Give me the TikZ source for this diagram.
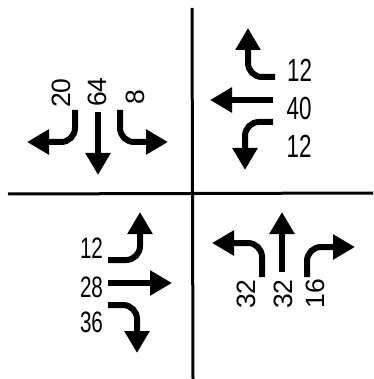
\documentclass[tikz,border=0pt]{standalone}
\usepackage{fontspec}
\setmainfont{Liberation Sans}
\usetikzlibrary{arrows.meta}

\begin{document}
\begin{tikzpicture}[
  x=1pt, y=-1pt,
  axis/.style={line width=3pt},
  move/.style={line width=6pt, rounded corners=14pt, -{Triangle[length=22pt, width=24pt]}},
  vcount/.style={inner sep=0pt, rotate=90, font=\fontsize{26.5}{26.5}\selectfont},
  hcount/.style={inner sep=0pt, xscale=0.7, font=\fontsize{32}{32}\selectfont}
]
\useasboundingbox (0,0) rectangle (373,379);

% crossing streets
\coordinate (vtop) at (192,8);
\coordinate (vbot) at (193,379);
\coordinate (hleft) at (8,194);
\coordinate (hright) at (373,193);
\draw[axis] (vtop) -- (vbot);
\draw[axis] (hleft) -- (hright);

% north approach
\node[vcount] (nleft) at (61.5,93) {20};
\node[vcount] (nthru) at (97.5,92) {64};
\node[vcount] (nright) at (135,97.5) {8};
\coordinate (nL0) at (75,110);  \coordinate (nL1) at (27,142);
\coordinate (nT0) at (98,112);  \coordinate (nT1) at (98,175);
\coordinate (nR0) at (120,110); \coordinate (nR1) at (168,142);
\draw[move] (nL0) |- (nL1);
\draw[move] (nT0) -- (nT1);
\draw[move] (nR0) |- (nR1);

% east approach
\node[hcount] (eleft) at (299.5,70) {12};
\node[hcount] (ethru) at (299,108.5) {40};
\node[hcount] (eright) at (299,146) {12};
\coordinate (eL0) at (275,77);  \coordinate (eL1) at (248,28);
\coordinate (eT0) at (273,100); \coordinate (eT1) at (210,100);
\coordinate (eR0) at (273,122); \coordinate (eR1) at (245,170);
\draw[move] (eL0) -| (eL1);
\draw[move] (eT0) -- (eT1);
\draw[move] (eR0) -| (eR1);

% west approach
\node[hcount, font=\fontsize{29.5}{29.5}\selectfont] (wleft) at (91.5,248) {12};
\node[hcount, font=\fontsize{29.5}{29.5}\selectfont] (wthru) at (91.5,287.5) {28};
\node[hcount, font=\fontsize{29.5}{29.5}\selectfont] (wright) at (91.5,322.5) {36};
\coordinate (wL0) at (108,260); \coordinate (wL1) at (140,212);
\coordinate (wT0) at (108,283); \coordinate (wT1) at (172,283);
\coordinate (wR0) at (108,305); \coordinate (wR1) at (137,353);
\draw[move] (wL0) -| (wL1);
\draw[move] (wT0) -- (wT1);
\draw[move] (wR0) -| (wR1);

% south approach
\node[vcount] (sleft) at (246,294) {32};
\node[vcount] (sthru) at (283,294) {32};
\node[vcount] (sright) at (315.5,293.5) {16};
\coordinate (sL0) at (262,277); \coordinate (sL1) at (212,243);
\coordinate (sT0) at (282,272); \coordinate (sT1) at (282,212);
\coordinate (sR0) at (307,277); \coordinate (sR1) at (355,247);
\draw[move] (sL0) |- (sL1);
\draw[move] (sT0) -- (sT1);
\draw[move] (sR0) |- (sR1);
\end{tikzpicture}
\end{document}
